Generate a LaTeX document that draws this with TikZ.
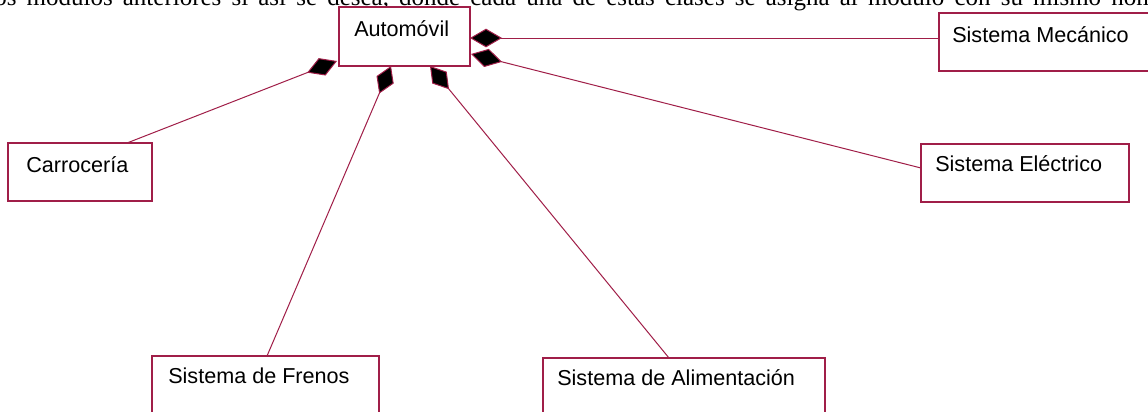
\documentclass[tikz,border=0pt]{standalone}
\usepackage{fontspec}
\setmainfont{Liberation Sans}
\newfontfamily\docserif{Liberation Serif}
\usetikzlibrary{arrows.meta}
\definecolor{umlred}{RGB}{160,30,72}
\newcommand{\widespaces}{\spaceskip=7.6pt\relax}
\begin{document}
\begin{tikzpicture}[x=0.75pt,y=-0.75pt,
  box/.style={draw=umlred, line width=0.9pt, fill=white, inner sep=0pt, minimum height=43.5pt},
  lbl/.style={anchor=base west, inner sep=0pt, font=\fontsize{16.2pt}{19pt}\selectfont, text=black},
  compA/.style={draw=umlred, line width=0.75pt, arrows={Diamond[length=24pt,width=14pt,fill=black]-}},
  compB/.style={draw=umlred, line width=0.75pt, arrows={Diamond[length=22.5pt,width=14pt,fill=black]-}}]
\useasboundingbox (0,0) rectangle (1148,411);
\clip (0,0) rectangle (1148,411);
\fill[white] (0,0) rectangle (1148,411);
% cropped line of the surrounding document
\node[anchor=base west, inner sep=0pt, font=\docserif\fontsize{18.75pt}{22pt}\selectfont] (doctext) at (-6,5)
  {\widespaces os módulos anteriores si así se desea, donde cada una de estas clases se asigna al módulo con su mismo nombre};
% boxes
\node[box, minimum width=98.25pt, minimum height=44.25pt] (auto) at (404.5,36.5) {};
\node[box, minimum width=165.75pt] (mec) at (1049.5,42) {};
\node[box, minimum width=108pt] (carr) at (80,172) {};
\node[box, minimum width=156pt] (elec) at (1025,173) {};
\node[box, minimum width=170.25pt] (fren) at (265.5,385) {};
\node[box, minimum width=211.5pt] (alim) at (684,387) {};
% labels
\node[lbl] (tauto) at (354,36) {Automóvil};
\node[lbl] (tmec) at (952,42) {Sistema Mecánico};
\node[lbl] (tcarr) at (26,172) {Carrocería};
\node[lbl] (telec) at (935,171) {Sistema Eléctrico};
\node[lbl] (tfren) at (168,383) {Sistema de Frenos};
\node[lbl] (talim) at (557,385) {Sistema de Alimentación};
% connector end points
\coordinate (a1) at (470,38);  \coordinate (m1) at (939,38);
\coordinate (a2) at (471,54);  \coordinate (e1) at (921,168);
\coordinate (a3) at (337,61);  \coordinate (c1) at (127,143);
\coordinate (a4) at (391,66);  \coordinate (f1) at (267,356);
\coordinate (a5) at (430,66);  \coordinate (l1) at (669,358);
% composition connectors
\draw[compA] (a1) -- (m1);
\draw[compA] (a2) -- (e1);
\draw[compA] (a3) -- (c1);
\draw[compB] (a4) -- (f1);
\draw[compB] (a5) -- (l1);
\end{tikzpicture}
\end{document}
